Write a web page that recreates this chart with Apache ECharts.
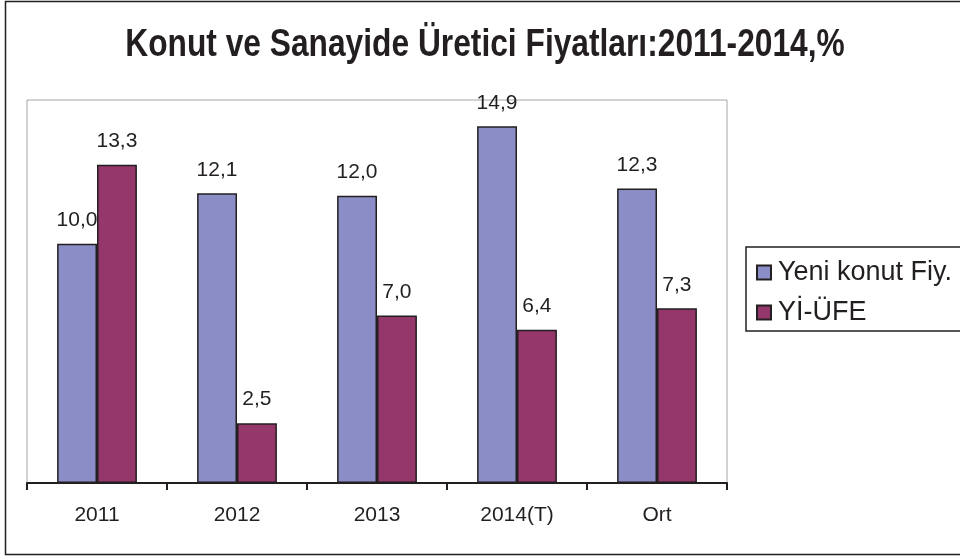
<!DOCTYPE html>
<html>
<head>
<meta charset="utf-8">
<script src="https://cdn.jsdelivr.net/npm/echarts@6/dist/echarts.min.js"></script>
<style>
  html, body { margin: 0; padding: 0; background: #fff; }
  #main { width: 960px; height: 558px; }
</style>
</head>
<body>
<div id="main"></div>
<script>
var categories = ['2011', '2012', '2013', '2014(T)', 'Ort'];
var yeniKonut = [10.0, 12.1, 12.0, 14.9, 12.3];
var yiUfe = [13.3, 2.5, 7.0, 6.4, 7.3];
var chartTitle = 'Konut ve Sanayide Üretici Fiyatları:2011-2014,%';

var chart = echarts.init(document.getElementById('main'));

function fmt(p) {
    return p.value.toFixed(1).replace('.', ',');
}

var labelStyle = {
    show: true,
    position: 'top',
    distance: 13,
    color: '#231f20',
    fontSize: 21,
    fontFamily: 'Liberation Sans, Arial',
    formatter: fmt
};

chart.setOption({
    animation: false,
    graphic: [{
        // outer frame, its right side runs off the picture
        type: 'rect',
        shape: { x: 5.5, y: 1.5, width: 960, height: 553 },
        style: { fill: 'none', stroke: '#231f20', lineWidth: 1.5 },
        silent: true
    }, {
        // the original title uses a narrow bold face, so squeeze it a bit
        type: 'text',
        x: 485,
        y: 46,
        scaleX: 0.835,
        style: {
            text: chartTitle,
            align: 'center',
            verticalAlign: 'middle',
            fill: '#231f20',
            font: 'bold 38px "Liberation Sans", Arial'
        },
        silent: true
    }],
    legend: {
        left: 746,
        top: 247,
        width: 220,
        orient: 'vertical',
        icon: 'rect',
        itemWidth: 14,
        itemHeight: 14,
        itemGap: 13,
        padding: [12, 20, 5, 10],
        borderColor: '#231f20',
        borderWidth: 1.5,
        textStyle: {
            fontSize: 27,
            color: '#231f20',
            padding: [0, 0, 0, 2],
            fontFamily: 'Liberation Sans, Arial'
        },
        data: ['Yeni konut Fiy.', 'Yİ-ÜFE']
    },
    grid: {
        left: 27,
        top: 100,
        width: 700,
        height: 383,
        show: true,
        borderColor: '#a6a6a6',
        borderWidth: 1
    },
    xAxis: {
        type: 'category',
        data: categories,
        axisLine: { lineStyle: { color: '#231f20', width: 2 } },
        axisTick: { show: true, length: 7, lineStyle: { color: '#231f20', width: 2 } },
        axisLabel: {
            fontSize: 21,
            color: '#231f20',
            margin: 22,
            fontFamily: 'Liberation Sans, Arial'
        }
    },
    yAxis: {
        type: 'value',
        min: 0,
        max: 16,
        axisLine: { show: false },
        axisTick: { show: false },
        axisLabel: { show: false },
        splitLine: { show: false }
    },
    series: [{
        name: 'Yeni konut Fiy.',
        type: 'bar',
        data: yeniKonut,
        barGap: '0%',
        barCategoryGap: '43%',
        itemStyle: { color: '#8b8ec6', borderColor: '#231f20', borderWidth: 1.5 },
        label: labelStyle
    }, {
        name: 'Yİ-ÜFE',
        type: 'bar',
        data: yiUfe,
        itemStyle: { color: '#95376a', borderColor: '#231f20', borderWidth: 1.5 },
        label: labelStyle
    }]
});
</script>
</body>
</html>
